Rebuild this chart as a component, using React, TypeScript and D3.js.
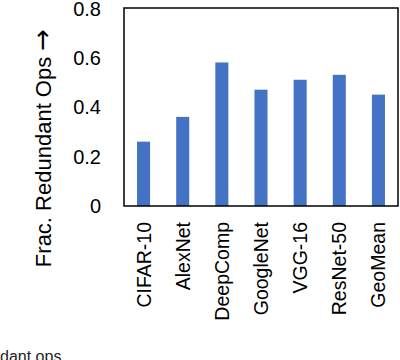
import React from "react";
import * as d3 from "d3";

const categories = ["CIFAR-10", "AlexNet", "DeepComp", "GoogleNet", "VGG-16", "ResNet-50", "GeoMean"];
const values = [0.26, 0.36, 0.58, 0.47, 0.51, 0.53, 0.45];
const yTicks = [0, 0.2, 0.4, 0.6, 0.8];

const W = 400, H = 360;
const left = 124, right = 398, top = 8, bottom = 206;
const font = "'Liberation Sans', Arial, sans-serif";

export default function App() {
  const x = d3.scaleBand<string>().domain(categories).range([left, right]).paddingInner(0.667).paddingOuter(0.333);
  const y = d3.scaleLinear().domain([0, 0.8]).range([bottom, top]);
  return (
    <svg width={W} height={H} style={{ position: "absolute", left: 0, top: 0, background: "#fff" }} fontFamily={font}>
      {categories.map((c, i) => (
        <rect key={c} x={x(c)} y={y(values[i])} width={x.bandwidth()} height={bottom - y(values[i])} fill="#4472C4" />
      ))}
      <rect x={left} y={top} width={right - left} height={bottom - top} fill="none" stroke="#000" strokeWidth={1.5} />
      {yTicks.map(t => (
        <text key={t} x={101} y={y(t)} dy={t === 0.8 ? "0.38em" : "0.35em"} textAnchor="end" fontSize={20} fill="#000">{t === 0 ? "0" : t.toFixed(1)}</text>
      ))}
      {categories.map(c => (
        <text key={c} transform={`translate(${(x(c) as number) + x.bandwidth() / 2 + 7},222) rotate(-90)`} textAnchor="end" fontSize={19.5} fill="#000">{c}</text>
      ))}
      <text transform={`translate(51,148) rotate(-90)`} textAnchor="middle" fontSize={22} fill="#000">
        Frac. Redundant Ops <tspan fontFamily="'DejaVu Sans'" fontSize={26}>→</tspan>
      </text>
      <text x={0} y={362} fontSize={16} fill="#222">dant ops</text>
    </svg>
  );
}
